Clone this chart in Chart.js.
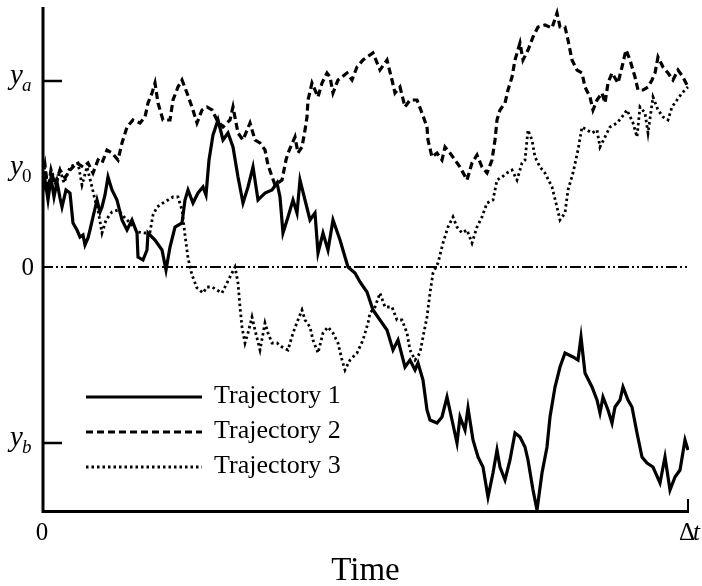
<!DOCTYPE html>
<html>
<head>
<meta charset="utf-8">
<script src="https://cdn.jsdelivr.net/npm/chart.js@4.4.1/dist/chart.umd.min.js"></script>
<style>
html, body { margin: 0; padding: 0; background: #fff; }
#wrap { width: 702px; height: 586px; }
</style>
</head>
<body>
<div id="wrap"><canvas id="myChart" width="702" height="586"></canvas></div>
<script>
// Tiempo (0 .. Δt = 647 pasos) y valores
const t1 = [0,3,6,9,12,15,18,20,24,28,31,35,38,41,43,46,48,51,55,58,60,63,66,70,75,80,85,90,95,96,101,105,106,113,120,124,128,133,140,143,146,151,156,161,164,167,171,176,181,186,191,196,201,206,211,216,223,230,235,238,241,246,251,255,258,263,268,273,276,281,286,291,298,303,306,313,318,325,331,338,345,351,356,363,368,373,376,381,385,388,395,400,405,410,415,418,423,426,431,436,441,446,451,455,458,463,468,473,478,483,486,491,495,500,505,508,513,518,523,531,536,539,543,550,555,558,561,566,570,573,578,581,586,590,595,600,605,611,618,623,628,633,638,643,646];
const y1 = [72,87,67,89,70,85,69,60,77,74,44,37,30,32,22,29,37,50,67,55,60,72,90,77,67,47,37,47,34,10,7,17,34,27,17,-3,20,40,44,67,77,64,74,80,72,107,132,147,127,134,120,90,64,80,100,67,74,77,84,70,34,50,67,54,87,67,47,54,14,34,17,47,27,10,0,-6,-15,-25,-43,-53,-63,-83,-73,-100,-93,-103,-96,-113,-143,-153,-156,-150,-130,-153,-176,-150,-163,-141,-173,-190,-200,-230,-206,-183,-200,-213,-193,-166,-170,-180,-193,-223,-243,-206,-180,-150,-120,-100,-86,-90,-93,-70,-106,-120,-133,-146,-130,-143,-156,-140,-133,-120,-133,-140,-166,-190,-196,-200,-216,-190,-223,-210,-203,-173,-183];

const t2 = [0,3,6,9,13,18,23,28,35,41,46,51,56,60,65,70,76,80,85,91,98,103,106,110,113,116,121,128,131,136,140,145,150,155,160,165,170,175,181,188,191,196,201,208,213,218,223,226,233,240,244,246,253,256,260,263,265,266,270,276,280,285,288,291,296,305,310,315,321,325,331,338,345,350,353,358,363,368,375,380,385,386,390,395,400,403,408,413,418,425,430,435,440,445,450,453,455,458,463,466,470,473,478,481,486,491,496,503,510,515,518,523,526,530,535,540,543,548,551,555,560,563,566,570,576,580,584,588,593,596,601,606,610,613,616,621,626,631,636,641,646];
const y2 = [87,102,77,97,82,97,89,97,104,100,104,94,107,104,117,114,107,124,140,147,144,150,164,174,184,164,147,147,167,180,187,174,160,144,157,160,157,147,140,147,160,134,127,144,127,124,117,102,82,87,107,114,130,114,120,137,150,167,184,170,184,194,190,174,187,194,187,200,207,210,214,197,207,187,174,180,160,167,167,154,140,127,110,114,107,120,114,107,100,87,104,112,100,94,107,127,147,157,164,177,190,207,224,207,217,230,240,242,239,254,240,240,227,207,197,194,180,170,157,167,174,164,184,194,184,200,217,207,190,177,177,180,187,194,210,200,194,187,197,190,180];

const t3 = [0,3,6,10,14,18,22,28,36,40,45,50,53,56,60,64,70,76,83,90,96,103,108,111,115,121,126,131,136,140,143,146,150,155,161,165,170,175,180,185,190,193,196,198,200,203,206,210,213,218,223,226,230,235,240,246,251,256,260,263,268,271,276,281,286,291,296,300,303,308,315,321,326,328,333,338,343,350,355,360,365,368,373,378,381,385,388,391,396,401,406,411,415,420,425,430,435,440,445,451,455,460,465,470,475,480,483,486,490,493,498,503,510,515,518,523,526,531,536,540,545,550,555,558,563,568,575,580,585,591,595,598,603,606,611,616,621,626,630,635,640,646];
const y3 = [82,97,77,95,82,97,84,100,104,82,100,80,67,57,34,47,55,57,49,42,35,34,35,52,60,64,67,70,70,57,32,9,-8,-21,-26,-20,-20,-23,-26,-16,-6,0,-16,-40,-60,-76,-66,-50,-63,-83,-56,-66,-76,-76,-80,-83,-66,-53,-43,-53,-60,-73,-86,-66,-60,-66,-76,-93,-103,-93,-86,-73,-56,-46,-40,-26,-40,-40,-53,-53,-66,-83,-93,-86,-70,-50,-26,-6,4,24,40,50,40,34,37,24,40,50,64,67,87,90,94,97,87,104,107,137,127,110,100,94,80,60,47,54,77,94,117,140,137,134,137,120,130,140,144,150,157,144,130,160,154,134,170,157,150,147,160,167,174,180];

// Línea de referencia y marcas del eje vertical
const zeroLineT = [0, 646];
const zeroLineY = [0, 0];
const yTickValues = [186, 95, 0, -176];
const yTickMain = ['y', 'y', '0', 'y'];
const yTickSub = ['a', '0', '', 'b'];
const xTickValues = [0, 647];
const xTickLabels = ['0', 'Δt'];
const legendLabels = ['Trajectory 1', 'Trajectory 2', 'Trajectory 3'];

const SERIF = '"Liberation Serif", "DejaVu Serif", serif';

function toPoints(ts, ys) {
    return ts.map((t, i) => ({ x: t, y: ys[i] }));
}

const guidePlugin = {
    id: 'guides',
    beforeDraw(chart) {
        const c = chart.ctx;
        c.save();
        c.fillStyle = '#fff';
        c.fillRect(0, 0, chart.width, chart.height);
        c.restore();
    },
    afterDraw(chart) {
        const c = chart.ctx;
        const xs = chart.scales.x, ys = chart.scales.y;
        const left = xs.getPixelForValue(0), right = xs.getPixelForValue(647);
        const top = chart.chartArea.top, bottom = ys.getPixelForValue(-243);
        c.save();
        c.strokeStyle = '#000';
        c.fillStyle = '#000';
        c.lineCap = 'butt';
        // ejes
        c.lineWidth = 3;
        c.beginPath();
        c.moveTo(left + 1, top);
        c.lineTo(left + 1, bottom + 1.5);
        c.lineTo(right, bottom + 1.5);
        c.stroke();
        c.lineWidth = 2;
        c.beginPath();
        c.moveTo(right - 1, bottom + 1.5);
        c.lineTo(right - 1, bottom - 11);
        c.stroke();

        // marcas y etiquetas del eje y
        yTickValues.forEach((v, i) => {
            const py = ys.getPixelForValue(v);
            if (yTickSub[i] === 'a' || yTickSub[i] === 'b') {
                c.lineWidth = 2.5;
                c.beginPath();
                c.moveTo(left, py);
                c.lineTo(left + 20, py);
                c.stroke();
            }
            if (yTickMain[i] === 'y') {
                c.font = 'italic 29px ' + SERIF;
                c.textAlign = 'left';
                c.textBaseline = 'alphabetic';
                c.fillText('y', 10, py + 3);
                c.font = (yTickSub[i] === '0' ? '' : 'italic ') + '19px ' + SERIF;
                c.fillText(yTickSub[i], 22, py + 10);
            } else {
                c.font = '25px ' + SERIF;
                c.textAlign = 'right';
                c.textBaseline = 'alphabetic';
                c.fillText(yTickMain[i], 34, py + 8);
            }
        });

        // etiquetas del eje x
        c.textBaseline = 'alphabetic';
        xTickValues.forEach((v, i) => {
            const px = xs.getPixelForValue(v);
            const lab = xTickLabels[i];
            if (lab === 'Δt') {
                c.font = '25px ' + SERIF;
                c.textAlign = 'left';
                c.fillText('Δ', px - 10, bottom + 30);
                c.font = 'italic 25px ' + SERIF;
                c.fillText('t', px + 4, bottom + 30);
            } else {
                c.font = '25px ' + SERIF;
                c.textAlign = 'center';
                c.fillText(lab, px, bottom + 30);
            }
        });

        // título
        c.font = '33px ' + SERIF;
        c.textAlign = 'center';
        c.fillText('Time', (left + right) / 2 + 0, 580);

        // leyenda
        const ds = chart.data.datasets;
        legendLabels.forEach((lab, i) => {
            const ly = 397 + i * 35;
            c.lineWidth = ds[i].borderWidth;
            c.setLineDash(ds[i].borderDash || []);
            c.beginPath();
            c.moveTo(86, ly);
            c.lineTo(202, ly);
            c.stroke();
            c.setLineDash([]);
            c.font = '26px ' + SERIF;
            c.textAlign = 'left';
            c.textBaseline = 'alphabetic';
            c.fillText(lab, 214, ly + 6);
        });
        c.restore();
    }
};

const chart = new Chart(document.getElementById('myChart').getContext('2d'), {
    type: 'line',
    data: {
        datasets: [
            {
                label: legendLabels[0],
                data: toPoints(t1, y1),
                borderColor: '#000',
                borderWidth: 3.2,
                borderDash: [],
                pointRadius: 0,
                tension: 0
            },
            {
                label: legendLabels[1],
                data: toPoints(t2, y2),
                borderColor: '#000',
                borderWidth: 3.2,
                borderDash: [7, 4],
                pointRadius: 0,
                tension: 0
            },
            {
                label: legendLabels[2],
                data: toPoints(t3, y3),
                borderColor: '#000',
                borderWidth: 2.8,
                borderDash: [2.5, 3],
                pointRadius: 0,
                tension: 0
            },
            {
                label: 'zero',
                data: toPoints(zeroLineT, zeroLineY),
                borderColor: '#000',
                borderWidth: 1.8,
                borderDash: [11, 3, 2, 3, 2, 3],
                pointRadius: 0,
                tension: 0
            }
        ]
    },
    options: {
        responsive: false,
        animation: false,
        layout: { padding: { left: 42, right: 13, top: 7, bottom: 76 } },
        plugins: { legend: { display: false }, tooltip: { enabled: false } },
        scales: {
            x: { type: 'linear', min: 0, max: 647, display: false },
            y: { type: 'linear', min: -243, max: 260, display: false }
        }
    },
    plugins: [guidePlugin]
});
</script>
</body>
</html>
